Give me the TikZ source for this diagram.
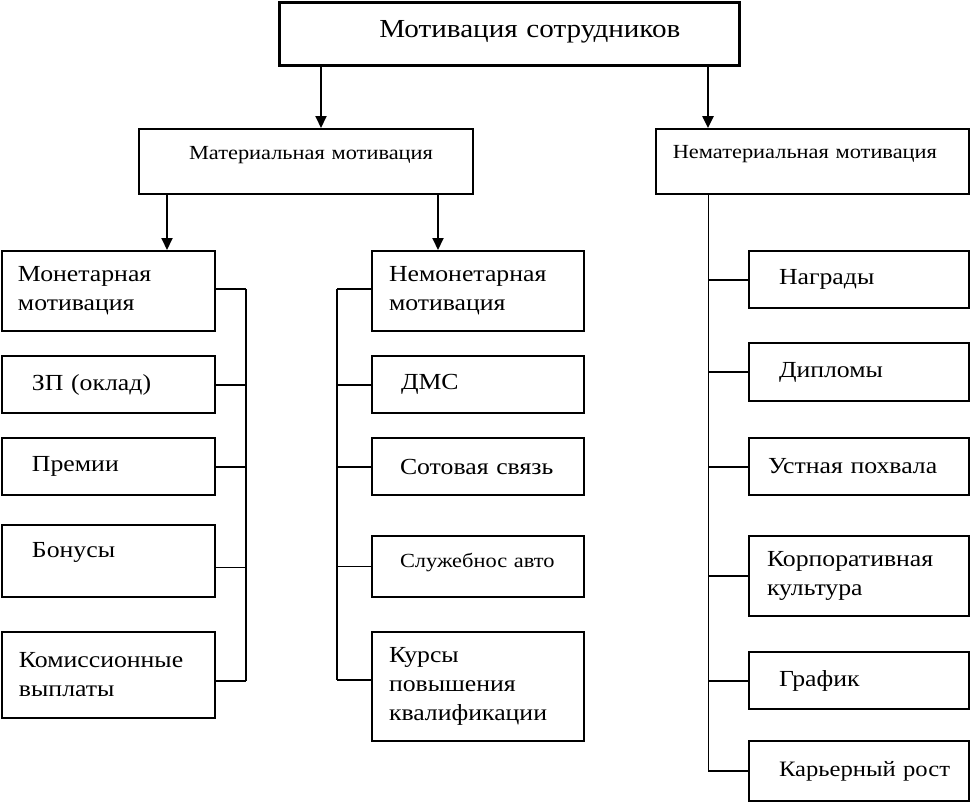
\documentclass[tikz,border=0pt]{standalone}
\usepackage{fontspec}
\setmainfont{Liberation Serif}[FakeStretch=1.12]
\usetikzlibrary{arrows.meta, positioning}

\begin{document}
\begin{tikzpicture}[
      x=1pt, y=-1pt,
      box/.style={rectangle, draw=black, line width=2pt, anchor=north west,
                  inner ysep=0pt, inner xsep=3pt, align=left,
                  font=\fontsize{23}{29}\selectfont},
      ind/.style={execute at begin node={\leftskip=#1\relax}},
      lcol/.style={box, text width=207pt},
      mcol/.style={box, text width=206pt},
      rcol/.style={box, text width=214pt},
      arr/.style={-{Triangle[length=12pt, width=11pt]}, line width=2pt, draw=black},
      conn/.style={line width=2pt, draw=black},
      thinconn/.style={line width=1pt, draw=black}
    ]
    \useasboundingbox (0,0) rectangle (970,803);
    % top level
    \node[box, line width=2.5pt, text width=454pt, minimum height=63pt, ind=97pt,
          text depth=10pt, font=\fontsize{26}{30}\selectfont] (top) at (278,1)
      {Мотивация сотрудников};
    \node[box, text width=328pt, minimum height=65pt, ind=47pt,
          text depth=18pt, font=\fontsize{20}{24}\selectfont] (mat) at (138,128)
      {Материальная мотивация};
    \node[box, line width=1.5pt, text width=307pt, minimum height=65pt, ind=14pt,
          text depth=18pt, font=\fontsize{20}{24}\selectfont] (nemat) at (655,128)
      {Нематериальная мотивация};
    % monetary column
    \node[lcol, minimum height=80pt, ind=13pt] (mon) at (1,250) {Монетарная\\мотивация};
    \node[lcol, minimum height=57pt, ind=27pt] (zp) at (1,355) {ЗП (оклад)};
    \node[lcol, minimum height=57pt, ind=27pt] (prem) at (1,437) {Премии};
    \node[lcol, minimum height=72pt, ind=27pt, text depth=22pt] (bon) at (1,524) {Бонусы};
    \node[lcol, minimum height=86pt, ind=14pt] (kom) at (1,631) {Комиссионные\\выплаты};
    % non-monetary column
    \node[mcol, minimum height=80pt, ind=14pt] (nemon) at (371,250) {Немонетарная\\мотивация};
    \node[mcol, minimum height=57pt, ind=26pt] (dms) at (371,355) {ДМС};
    \node[mcol, minimum height=57pt, ind=25pt] (sot) at (371,437) {Сотовая связь};
    \node[mcol, minimum height=61pt, ind=25pt, text depth=13pt,
          font=\fontsize{20}{24}\selectfont] (auto) at (371,535) {Служебнос авто};
    \node[mcol, minimum height=109pt, ind=14pt] (kurs) at (371,631) {Курсы\\повышения\\квалификации};
    % non-material column
    \node[rcol, minimum height=57pt, ind=27pt] (nagr) at (748,250) {Награды};
    \node[rcol, minimum height=58pt, ind=27pt] (dipl) at (748,342) {Дипломы};
    \node[rcol, minimum height=57pt, ind=16pt] (pohv) at (748,437) {Устная похвала};
    \node[rcol, minimum height=80pt, ind=15pt] (korp) at (748,535) {Корпоративная\\культура};
    \node[rcol, minimum height=57pt, ind=27pt] (graf) at (748,651) {График};
    \node[rcol, minimum height=60pt, ind=27pt,
          font=\fontsize{22}{28}\selectfont] (kar) at (748,740) {Карьерный рост};
    % bus lines
    \coordinate (lbus) at (246,0);
    \coordinate (mbus) at (337,0);
    \coordinate (rbus) at (708,0);
    \coordinate (la) at (321,0);
    \coordinate (ma) at (167,0);
    \coordinate (mb) at (438,0);
    % arrows
    \draw[arr] (top.south -| la) -- (mat.north -| la);
    \draw[arr, line width=2.5pt] (top.south -| rbus) -- (nemat.north -| rbus);
    \draw[arr] (mat.south -| ma) -- (mon.north -| ma);
    \draw[arr] (mat.south -| mb) -- (nemon.north -| mb);
    % monetary links
    \draw[conn] ([yshift=2pt]mon.east -| lbus) -- ([yshift=-6pt]kom.east -| lbus);
    \draw[conn] ([yshift=2pt]mon.east) -- ([yshift=2pt]mon.east -| lbus);
    \draw[conn] (zp.east) -- (zp.east -| lbus);
    \draw[conn] (prem.east) -- (prem.east -| lbus);
    \draw[thinconn] ([yshift=-6pt]bon.east) -- ([yshift=-6pt]bon.east -| lbus);
    \draw[conn] ([yshift=-6pt]kom.east) -- ([yshift=-6pt]kom.east -| lbus);
    % non-monetary links
    \draw[conn] ([yshift=2pt]nemon.west -| mbus) -- ([yshift=7pt]kurs.west -| mbus);
    \draw[conn] ([yshift=2pt]nemon.west) -- ([yshift=2pt]nemon.west -| mbus);
    \draw[conn] (dms.west) -- (dms.west -| mbus);
    \draw[conn] (sot.west) -- (sot.west -| mbus);
    \draw[thinconn] (auto.west) -- (auto.west -| mbus);
    \draw[conn] ([yshift=7pt]kurs.west) -- ([yshift=7pt]kurs.west -| mbus);
    % non-material links
    \draw[thinconn] (nemat.south -| rbus) -- (kar.west -| rbus);
    \foreach \n in {nagr, dipl, pohv, korp, graf, kar}
      \draw[conn] (\n.west) -- (\n.west -| rbus);
  \end{tikzpicture}
\end{document}
